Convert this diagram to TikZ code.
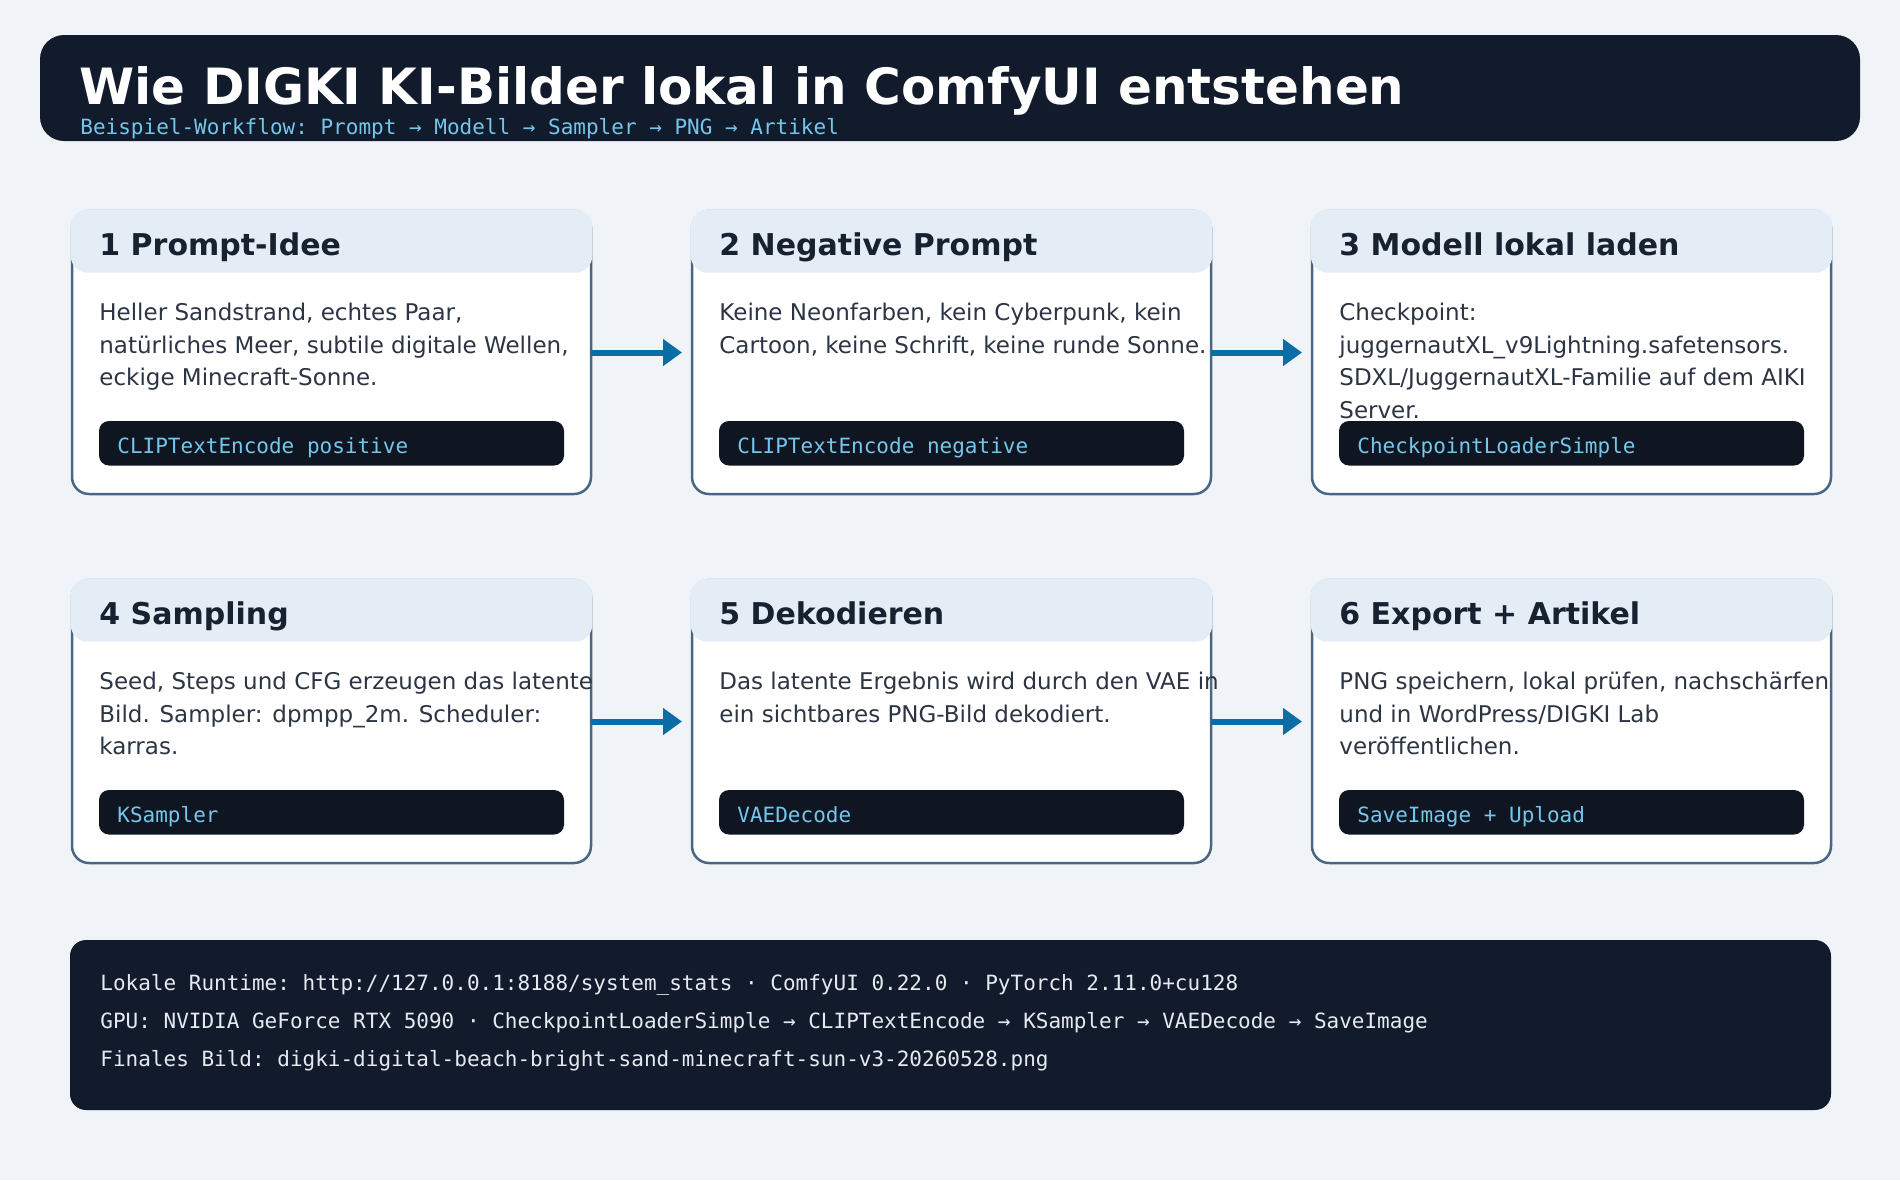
\documentclass[tikz,border=0pt]{standalone}
\usepackage{fontspec}
\setmainfont{DejaVu Sans}
\setmonofont{DejaVu Sans Mono}
\usepackage{tikz}
\usetikzlibrary{arrows.meta, positioning, calc}
\usepackage{xcolor}
\definecolor{pagebg}{HTML}{F0F4F8}
\definecolor{navy}{HTML}{121B2B}
\definecolor{badgefill}{HTML}{0F1621}
\definecolor{skytext}{HTML}{74C6EC}
\definecolor{cardline}{HTML}{4A6685}
\definecolor{headfill}{HTML}{E4ECF6}
\definecolor{titletext}{HTML}{17212F}
\definecolor{bodytext}{HTML}{2B3544}
\definecolor{flowblue}{HTML}{0A6DA6}
\definecolor{foottext}{HTML}{E6EAF0}
\tikzstyle{banner} = [rectangle, rounded corners=12pt, fill=navy, minimum width=910pt, minimum height=53pt, inner sep=0, outer sep=0]
\tikzstyle{card} = [rectangle, rounded corners=8.5pt, draw=cardline, line width=1.25pt, fill=white, minimum width=259.5pt, minimum height=141.5pt, inner sep=0, outer sep=0]
\tikzstyle{cardhead} = [rectangle, rounded corners=8.5pt, fill=headfill, minimum width=260.8pt, minimum height=31.5pt, inner sep=0, outer sep=0]
\tikzstyle{headtext} = [anchor=base west, inner sep=0, text=titletext, font=\fontsize{15}{18}\selectfont\bfseries]
\tikzstyle{bodytxt} = [anchor=north west, inner sep=0, align=left, text=bodytext, font=\fontsize{11.5}{16.35}\selectfont]
\tikzstyle{badge} = [rectangle, rounded corners=5pt, fill=badgefill, anchor=north west, minimum width=232.5pt, minimum height=22.25pt, inner sep=0, outer sep=0]
\tikzstyle{codetext} = [anchor=base west, inner sep=0, text=skytext, font=\fontsize{10.5}{12}\ttfamily]
\tikzstyle{footbox} = [rectangle, rounded corners=8pt, fill=navy, minimum width=880.5pt, minimum height=85pt, inner sep=0, outer sep=0]
\tikzstyle{flow} = [line width=3pt, flowblue, -{Triangle[length=9.5pt,width=13pt]}, shorten >=5pt]

\begin{document}
\begin{tikzpicture}[x=0.5pt, y=-0.5pt]
    \fill[pagebg] (0,0) rectangle (1900,1180);
    \useasboundingbox (0,0) rectangle (1900,1180);

    % Kopfzeile
    \node (hdr) [banner, anchor=north west] at (40,35) {};
    \node (title) [anchor=base west, inner sep=0, text=white, font=\fontsize{25}{30}\selectfont\bfseries] at ($(hdr.north west)+(39,69)$) {Wie DIGKI KI-Bilder lokal in ComfyUI entstehen};
    \node (subtitle) [codetext] at ($(hdr.north west)+(40,99)$) {Beispiel-Workflow: Prompt → Modell → Sampler → PNG → Artikel};

    % Karten
    \node (c1) [card, anchor=north west] at (72,211) {};
    \node (c2) [card, right=50.5pt of c1] {};
    \node (c3) [card, right=50.5pt of c2] {};
    \node (c4) [card, below=43pt of c1] {};
    \node (c5) [card, right=50.5pt of c4] {};
    \node (c6) [card, right=50.5pt of c5] {};

    \foreach \c/\t/\k in {c1/1 Prompt-Idee/CLIPTextEncode positive, c2/2 Negative Prompt/CLIPTextEncode negative, c3/3 Modell lokal laden/CheckpointLoaderSimple, c4/4 Sampling/KSampler, c5/5 Dekodieren/VAEDecode, c6/6 Export + Artikel/SaveImage + Upload} {
        \node (\c-head) [cardhead, anchor=north] at ($(\c.north)+(0pt,0.65pt)$) {};
        \node (\c-title) [headtext] at ($(\c.north west)+(27,44)$) {\t};
        \node (\c-code) [badge] at ($(\c.north west)+(27,210)$) {};
        \node (\c-label) [codetext] at ($(\c-code.north west)+(18,32)$) {\k};
    }

    % erste Grundlinie bei 109px, Oberkante 17.5px darueber
    \node (c1-text) [bodytxt] at ($(c1.north west)+(27,91.5)$) {Heller Sandstrand, echtes Paar,\\natürliches Meer, subtile digitale Wellen,\\eckige Minecraft-Sonne.};
    \node (c2-text) [bodytxt] at ($(c2.north west)+(27,91.5)$) {Keine Neonfarben, kein Cyberpunk, kein\\Cartoon, keine Schrift, keine runde Sonne.};
    \node (c3-text) [bodytxt] at ($(c3.north west)+(27,91.5)$) {Checkpoint:\\juggernautXL\_v9Lightning.safetensors.\\SDXL/JuggernautXL-Familie auf dem AIKI\\Server.};
    \node (c4-text) [bodytxt] at ($(c4.north west)+(27,91.5)$) {Seed, Steps und CFG erzeugen das latente\\Bild. Sampler: dpmpp\_2m. Scheduler:\\karras.};
    \node (c5-text) [bodytxt] at ($(c5.north west)+(27,91.5)$) {Das latente Ergebnis wird durch den VAE in\\ein sichtbares PNG-Bild dekodiert.};
    \node (c6-text) [bodytxt] at ($(c6.north west)+(27,91.5)$) {PNG speichern, lokal prüfen, nachschärfen\\und in WordPress/DIGKI Lab\\veröffentlichen.};

    \foreach \i/\j in {c1/c2, c2/c3, c4/c5, c5/c6} {
        \draw [flow] (\i.east) -- (\j.west);
    }

    % Laufzeit-Info
    \node (foot) [footbox, anchor=north west] at (70,940) {};
    \node (foot-text) [anchor=north west, inner sep=0, align=left, text=foottext, font=\fontsize{10.5}{19}\ttfamily] at ($(foot.north west)+(30,34)$) {Lokale Runtime: http://127.0.0.1:8188/system\_stats · ComfyUI 0.22.0 · PyTorch 2.11.0+cu128\\GPU: NVIDIA GeForce RTX 5090 · CheckpointLoaderSimple → CLIPTextEncode → KSampler → VAEDecode → SaveImage\\Finales Bild: digki-digital-beach-bright-sand-minecraft-sun-v3-20260528.png};
\end{tikzpicture}
\end{document}
